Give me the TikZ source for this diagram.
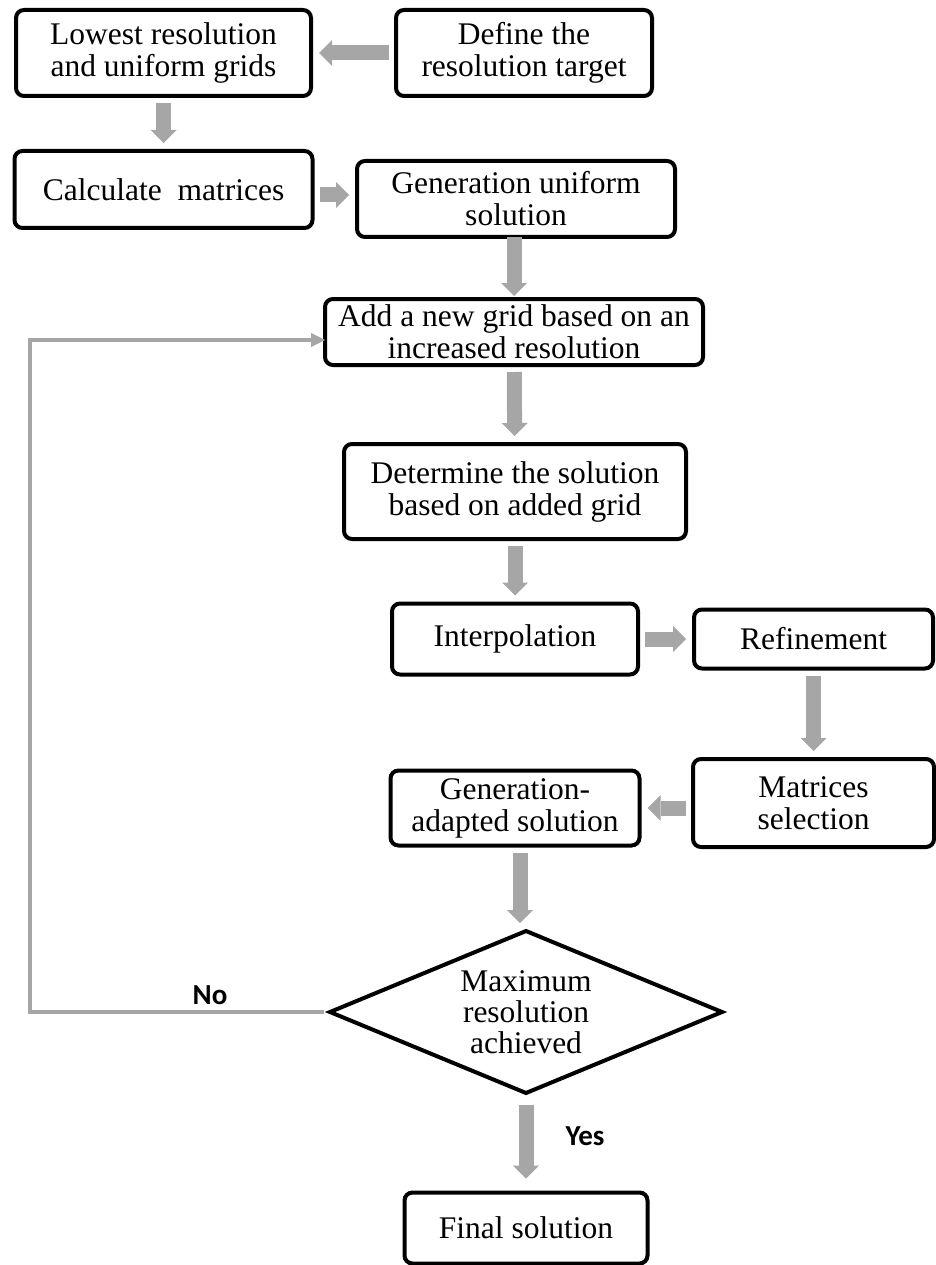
\documentclass[tikz,border=0pt]{standalone}
\usepackage{fontspec}
\setmainfont{Liberation Serif}
\newfontfamily\labelfont{Carlito}
\usepackage{xcolor}
\usetikzlibrary{shapes.geometric,arrows.meta,positioning,calc}

\definecolor{flowgray}{RGB}{166,166,166}

\begin{document}
\begin{tikzpicture}[x=1pt, y=-1pt,
    box/.style={draw, line width=4pt, rounded corners=8pt, align=center, inner sep=0pt, outer sep=0pt, font=\fontsize{31.5}{32}\selectfont},
    decision/.style={draw, diamond, line width=4pt, aspect=2.42, align=center, inner sep=0pt, outer sep=0pt, font=\fontsize{31.5}{31}\selectfont},
    flow/.style={color=flowgray, line width=15pt, -{Triangle[width=26pt,length=13pt,line width=0pt]}, shorten <=7pt, shorten >=8pt},
    back/.style={color=flowgray, line width=3.5pt, -{Triangle[width=14pt,length=14pt,line width=0pt]}},
    answer/.style={font=\labelfont\bfseries\fontsize{29}{29}\selectfont}]
    \useasboundingbox (0,0) rectangle (936,1265);

    \node[box, minimum width=295pt, minimum height=86pt] (lowres) at (163.5,53) {Lowest resolution\\and uniform grids};
    \node[box, minimum width=256pt, minimum height=86pt] (target) at (524,53) {Define the\\resolution target};
    \node[box, minimum width=298pt, minimum height=77pt] (matrices) at (163.5,189.5) {Calculate\ \ matrices};
    \node[box, minimum width=318pt, minimum height=76pt] (uniform) at (516,199) {Generation uniform\\solution};
    \node[box, minimum width=378pt, minimum height=66pt] (addgrid) at (514,332) {Add a new grid based on an\\increased resolution};
    \node[box, minimum width=342pt, minimum height=95pt] (determine) at (515,491.5) {Determine the solution\\based on added grid};
    \node[box, minimum width=246pt, minimum height=71pt] (interp) at (515,639) {Interpolation};
    \node[box, minimum width=239pt, minimum height=59pt] (refine) at (813.5,639) {Refinement};
    \node[box, minimum width=241pt, minimum height=88pt] (select) at (813.5,803) {Matrices\\selection};
    \node[box, minimum width=249pt, minimum height=75pt] (adapted) at (515,808) {Generation-\\adapted solution};
    \node[decision, minimum width=392pt, minimum height=162pt] (maxres) at (526,1012) {Maximum\\resolution\\achieved};
    \node[box, minimum width=243pt, minimum height=71pt] (final) at (526,1228) {Final solution};

    \node[answer] (no) at (210,995) {No};
    \node[answer] (yes) at (585,1136) {Yes};

    \draw[flow] (target) -- (lowres);
    \draw[flow] (lowres) -- (matrices);
    \draw[flow] ([yshift=-5.5pt]matrices.east) -- ([yshift=4pt]uniform.west);
    \draw[flow, shorten <=0pt, shorten >=3pt] (addgrid.north |- uniform.south) -- (addgrid.north);
    \draw[flow] (addgrid) -- (determine);
    \draw[flow] (determine) -- (interp);
    \draw[flow] (interp) -- (refine);
    \draw[flow] (refine) -- (select);
    \draw[flow] (select.west |- adapted.east) -- (adapted.east);
    \draw[flow] ([xshift=5pt]adapted.south) -- ([xshift=5pt]adapted.south |- maxres.north);
    \draw[flow, shorten <=12pt, shorten >=14pt] (maxres) -- (final);
    \draw[back, shorten <=6pt] (maxres.west) -- ++(-300,0) |- ([yshift=-8pt]addgrid.west);
\end{tikzpicture}
\end{document}
